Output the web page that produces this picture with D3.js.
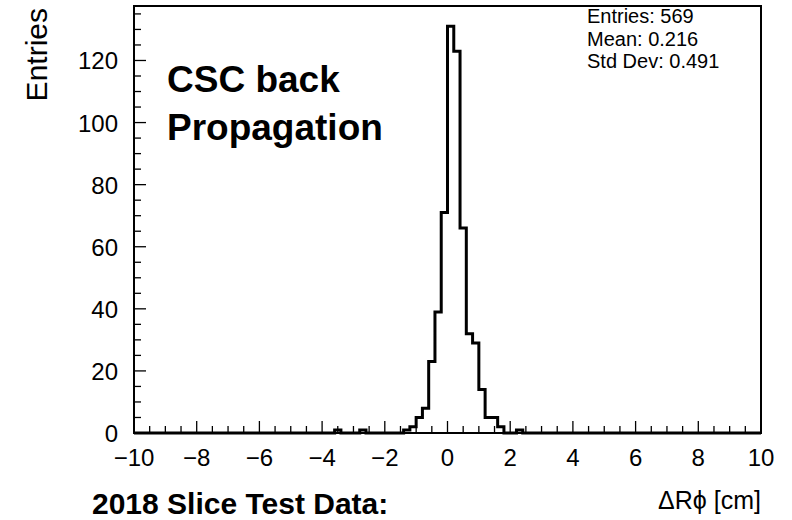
<!DOCTYPE html>
<html lang="en">
<head>
<meta charset="utf-8">
<title>CSC back propagation</title>
<script src="https://cdn.jsdelivr.net/npm/d3@7"></script>
<style>
  body { margin: 0; background: #fff; }
  text { font-family: "Liberation Sans", Arial, Helvetica, sans-serif; fill: #000; }
</style>
</head>
<body>
<div id="chart"></div>
<script>
// histogram: 100 bins of 0.2 cm from -10 to 10, only non-empty bins listed
var binLow  = [-3.6, -2.8, -1.4, -1.2, -1.0, -0.8, -0.6, -0.4, -0.2, 0.0, 0.2, 0.4, 0.6, 0.8, 1.0, 1.2, 1.4, 1.6, 2.2];
var counts  = [   1,    1,    1,    2,    5,    8,   23,   39,   71, 131, 123,  66,  32,  29,  14,   5,   5,   2,   1];
var xTicks  = [-10, -8, -6, -4, -2, 0, 2, 4, 6, 8, 10];
var yTicks  = [0, 20, 40, 60, 80, 100, 120];
var stats   = ["Entries: 569", "Mean: 0.216", "Std Dev: 0.491"];

var width = 792, height = 520;
var m = {left: 134, right: 31, top: 6, bottom: 87};

var svg = d3.select("#chart").append("svg")
    .attr("width", width)
    .attr("height", height);

var x = d3.scaleLinear().domain([-10, 10]).range([m.left, width - m.right]);
var y = d3.scaleLinear().domain([0, 131 * 1.05]).range([height - m.bottom, m.top]);

// fill the full bin array
var nBins = 100, bw = 0.2;
var bins = d3.range(nBins).map(function(i) { return {lo: -10 + i * bw, n: 0}; });
binLow.forEach(function(lo, k) {
  var i = Math.round((lo + 10) / bw);
  bins[i].n = counts[k];
});

// ticks (inward)
var g = svg.append("g");
x.ticks(40).forEach(function(t) {
  var major = Math.abs(t / 2 - Math.round(t / 2)) < 1e-6;
  g.append("line")
    .attr("x1", x(t)).attr("x2", x(t))
    .attr("y1", y(0)).attr("y2", y(0) - (major ? 12 : 7))
    .attr("stroke", "#000").attr("stroke-width", 1.3);
});
d3.range(0, 136, 5).forEach(function(t) {
  var major = t % 20 == 0;
  g.append("line")
    .attr("x1", x(-10)).attr("x2", x(-10) + (major ? 12 : 7))
    .attr("y1", y(t)).attr("y2", y(t))
    .attr("stroke", "#000").attr("stroke-width", 1.3);
});

// histogram outline
var pts = [];
bins.forEach(function(b) { pts.push([b.lo, b.n]); });
pts.push([10, 0]);
var line = d3.line()
    .x(function(d) { return x(d[0]); })
    .y(function(d) { return y(d[1]); })
    .curve(d3.curveStepAfter);
svg.append("path")
    .datum(pts)
    .attr("d", line)
    .attr("fill", "none")
    .attr("stroke", "#000")
    .attr("stroke-width", 3)
    .attr("stroke-linejoin", "miter");

// frame
svg.append("rect")
    .attr("x", x(-10)).attr("y", y.range()[1])
    .attr("width", x(10) - x(-10))
    .attr("height", y(0) - y.range()[1])
    .attr("fill", "none").attr("stroke", "#000").attr("stroke-width", 2);

// tick labels
svg.append("g").selectAll("text")
  .data(xTicks).enter().append("text")
    .attr("x", function(d) { return x(d); })
    .attr("y", y(0) + 33)
    .attr("text-anchor", "middle")
    .style("font-size", "24px")
    .text(function(d) { return d < 0 ? "\u2212" + Math.abs(d) : d; });

svg.append("g").selectAll("text")
  .data(yTicks).enter().append("text")
    .attr("x", x(-10) - 16)
    .attr("y", function(d) { return y(d) + 9; })
    .attr("text-anchor", "end")
    .style("font-size", "24px")
    .text(function(d) { return d; });

// axis titles
svg.append("text")
    .attr("transform", "translate(47,8) rotate(-90)")
    .attr("text-anchor", "end")
    .style("font-size", "30px")
    .text("Entries");

svg.append("text")
    .attr("x", 761).attr("y", 509)
    .attr("text-anchor", "end")
    .style("font-size", "25px")
    .text("\u0394R\u03d5 [cm]");

// stats box
svg.append("g").selectAll("text")
  .data(stats).enter().append("text")
    .attr("x", 587)
    .attr("y", function(d, i) { return 23 + i * 22.5; })
    .style("font-size", "20px")
    .text(function(d) { return d; });

// labels
svg.append("text")
    .attr("x", 167).attr("y", 92)
    .style("font-size", "37px").style("font-weight", "bold")
    .text("CSC back");
svg.append("text")
    .attr("x", 167).attr("y", 140)
    .style("font-size", "37px").style("font-weight", "bold")
    .text("Propagation");
svg.append("text")
    .attr("x", 92).attr("y", 514)
    .style("font-size", "30px").style("font-weight", "bold")
    .text("2018 Slice Test Data:");
</script>
</body>
</html>
